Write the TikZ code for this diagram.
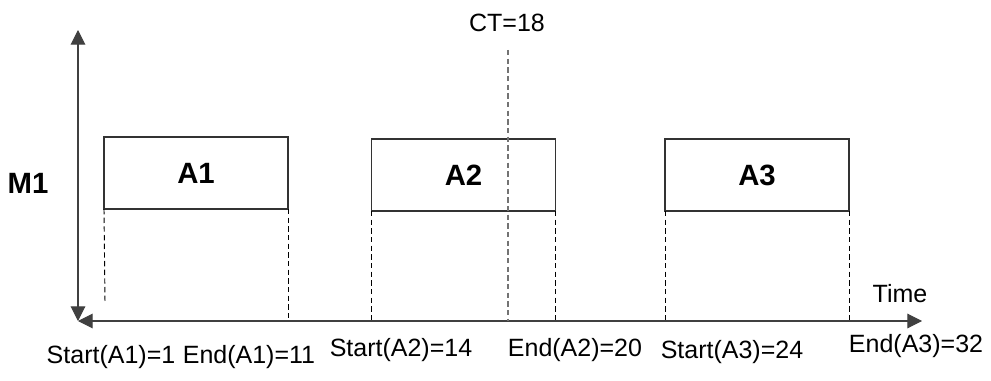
\documentclass[tikz,border=0pt]{standalone}
\usepackage{fontspec}
\setmainfont{Liberation Sans}
\usetikzlibrary{arrows.meta,positioning}

\begin{document}
\begin{tikzpicture}[
  x=0.75pt, y=-0.75pt,
  txt/.style={font=\fontsize{18.75}{22}\selectfont, inner sep=0pt},
  bold/.style={font=\fontsize{22}{26}\selectfont\bfseries, inner sep=0pt},
  job/.style={bold, draw=black!80, line width=0.8pt, minimum width=138pt, minimum height=54pt, outer sep=0pt},
  axis/.style={draw=black!75, line width=0.8pt, {Triangle[length=11pt,width=11pt]}-{Triangle[length=11pt,width=11pt]}},
  guide/.style={draw=black, line width=0.7pt, dash pattern=on 4pt off 2.5pt},
  now/.style={draw=black!55, line width=1pt, dash pattern=on 4pt off 2.5pt},
]
  \useasboundingbox (0,0) rectangle (991,381);

  % axes
  \coordinate (top) at (78,30);
  \coordinate (origin) at (78,321);
  \coordinate (tend) at (922,321);
  \draw[axis] (top) -- (origin);
  \draw[axis] (origin) -- (tend);
  \node[bold] (m1) at (28,183) {M1};
  \node[txt] (time) at (900,294) {Time};

  % jobs on the machine
  \node[job] (a1) at (196,173) {A1};
  \node[job] (a2) at (463.5,175) {A2};
  \node[job] (a3) at (757,175) {A3};

  \coordinate (a1cut) at (105,303);
  \draw[guide] (a1.south west) -- (a1cut);
  \draw[guide] (a1.south east) -- (a1.south east |- origin);
  \foreach \j in {a2,a3} {
    \draw[guide] (\j.south west) -- (\j.south west |- origin);
    \draw[guide] (\j.south east) -- (\j.south east |- origin);
  }

  % current time
  \node[txt] (ct) at (507,23) {CT=18};
  \coordinate (cttop) at (508,50);
  \draw[now] (cttop) -- (cttop |- origin);

  % start / end times
  \node[txt] (s1) at (111,357) {Start(A1)=1};
  \node[txt] (e1) at (249,357) {End(A1)=11};
  \node[txt] (s2) at (401,350) {Start(A2)=14};
  \node[txt] (e2) at (575,350) {End(A2)=20};
  \node[txt] (s3) at (732,352) {Start(A3)=24};
  \node[txt] (e3) at (916,346) {End(A3)=32};
\end{tikzpicture}
\end{document}
